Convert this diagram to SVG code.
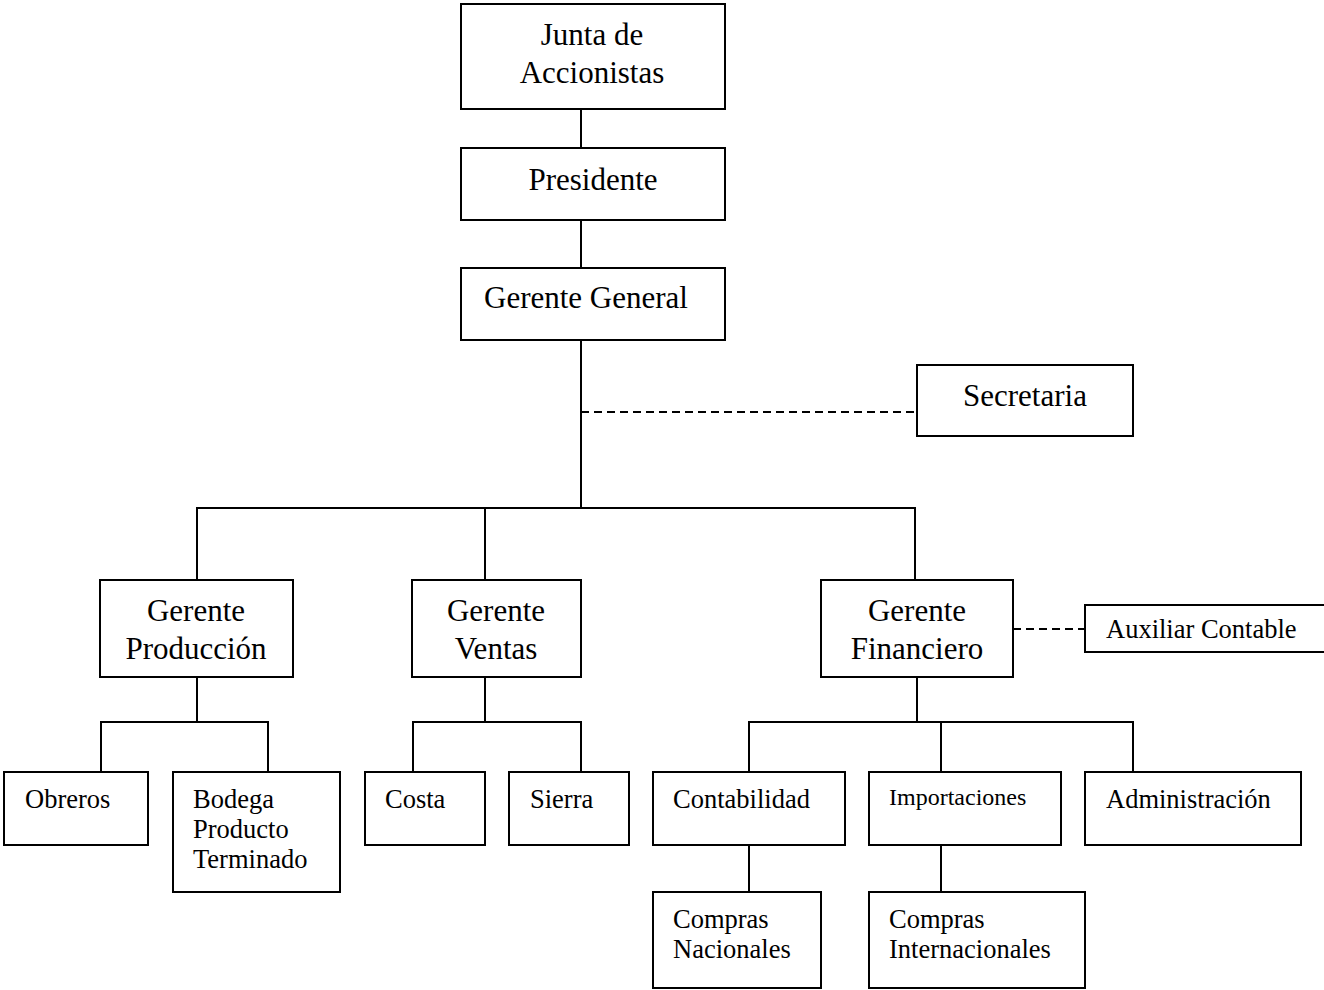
<svg xmlns="http://www.w3.org/2000/svg" width="1324" height="990" viewBox="0 0 1324 990">
  <style>
    .box { fill: #ffffff; stroke: #000000; stroke-width: 2; }
    .ln { fill: none; stroke: #000000; stroke-width: 2; }
    .dash { fill: none; stroke: #000000; stroke-width: 2; stroke-dasharray: 8 5; }
    text { font-family: "Liberation Serif", "Times New Roman", serif; fill: #000000; }
    .big { font-size: 31px; text-anchor: middle; }
    .small { font-size: 26.5px; }
    .tiny { font-size: 24px; }
  </style>
  <rect width="1324" height="990" fill="#ffffff"/>

  <!-- connectors -->
  <g id="connectors">
    <line class="ln" x1="581" y1="109" x2="581" y2="148"/>
    <line class="ln" x1="581" y1="220" x2="581" y2="268"/>
    <line class="ln" x1="581" y1="340" x2="581" y2="508"/>
    <line class="dash" x1="581" y1="412" x2="917" y2="412"/>
    <polyline class="ln" points="197,580 197,508 915,508 915,580"/>
    <line class="ln" x1="485" y1="508" x2="485" y2="580"/>
    <line class="dash" x1="1013" y1="629" x2="1085" y2="629"/>
    <!-- production branch -->
    <line class="ln" x1="197" y1="677" x2="197" y2="722"/>
    <polyline class="ln" points="101,772 101,722 268,722 268,772"/>
    <!-- sales branch -->
    <line class="ln" x1="485" y1="677" x2="485" y2="722"/>
    <polyline class="ln" points="413,772 413,722 581,722 581,772"/>
    <!-- finance branch -->
    <line class="ln" x1="917" y1="677" x2="917" y2="722"/>
    <polyline class="ln" points="749,772 749,722 1133,722 1133,772"/>
    <line class="ln" x1="941" y1="722" x2="941" y2="772"/>
    <line class="ln" x1="749" y1="845" x2="749" y2="892"/>
    <line class="ln" x1="941" y1="845" x2="941" y2="892"/>
  </g>

  <g id="junta">
    <rect class="box" x="461" y="4" width="264" height="105"/>
    <text class="big" x="592" y="45">Junta de</text>
    <text class="big" x="592" y="83">Accionistas</text>
  </g>
  <g id="presidente">
    <rect class="box" x="461" y="148" width="264" height="72"/>
    <text class="big" x="593" y="190">Presidente</text>
  </g>
  <g id="gerente-general">
    <rect class="box" x="461" y="268" width="264" height="72"/>
    <text class="big" x="586" y="308">Gerente General</text>
  </g>
  <g id="secretaria">
    <rect class="box" x="917" y="365" width="216" height="71"/>
    <text class="big" x="1025" y="406">Secretaria</text>
  </g>
  <g id="gerente-produccion">
    <rect class="box" x="100" y="580" width="193" height="97"/>
    <text class="big" x="196" y="621">Gerente</text>
    <text class="big" x="196" y="659">Producción</text>
  </g>
  <g id="gerente-ventas">
    <rect class="box" x="412" y="580" width="169" height="97"/>
    <text class="big" x="496" y="621">Gerente</text>
    <text class="big" x="496" y="659">Ventas</text>
  </g>
  <g id="gerente-financiero">
    <rect class="box" x="821" y="580" width="192" height="97"/>
    <text class="big" x="917" y="621">Gerente</text>
    <text class="big" x="917" y="659">Financiero</text>
  </g>
  <g id="auxiliar-contable">
    <rect class="box" x="1085" y="605" width="240" height="47"/>
    <text class="small" x="1106" y="638">Auxiliar Contable</text>
  </g>
  <g id="obreros">
    <rect class="box" x="4" y="772" width="144" height="73"/>
    <text class="small" x="25" y="808">Obreros</text>
  </g>
  <g id="bodega">
    <rect class="box" x="173" y="772" width="167" height="120"/>
    <text class="small" x="193" y="808">Bodega</text>
    <text class="small" x="193" y="838">Producto</text>
    <text class="small" x="193" y="868">Terminado</text>
  </g>
  <g id="costa">
    <rect class="box" x="365" y="772" width="120" height="73"/>
    <text class="small" x="385" y="808">Costa</text>
  </g>
  <g id="sierra">
    <rect class="box" x="509" y="772" width="120" height="73"/>
    <text class="small" x="530" y="808">Sierra</text>
  </g>
  <g id="contabilidad">
    <rect class="box" x="653" y="772" width="192" height="73"/>
    <text class="small" x="673" y="808">Contabilidad</text>
  </g>
  <g id="importaciones">
    <rect class="box" x="869" y="772" width="192" height="73"/>
    <text class="tiny" x="889" y="805">Importaciones</text>
  </g>
  <g id="administracion">
    <rect class="box" x="1085" y="772" width="216" height="73"/>
    <text class="small" x="1106" y="808">Administración</text>
  </g>
  <g id="compras-nacionales">
    <rect class="box" x="653" y="892" width="168" height="96"/>
    <text class="small" x="673" y="928">Compras</text>
    <text class="small" x="673" y="958">Nacionales</text>
  </g>
  <g id="compras-internacionales">
    <rect class="box" x="869" y="892" width="216" height="96"/>
    <text class="small" x="889" y="928">Compras</text>
    <text class="small" x="889" y="958">Internacionales</text>
  </g>
</svg>
